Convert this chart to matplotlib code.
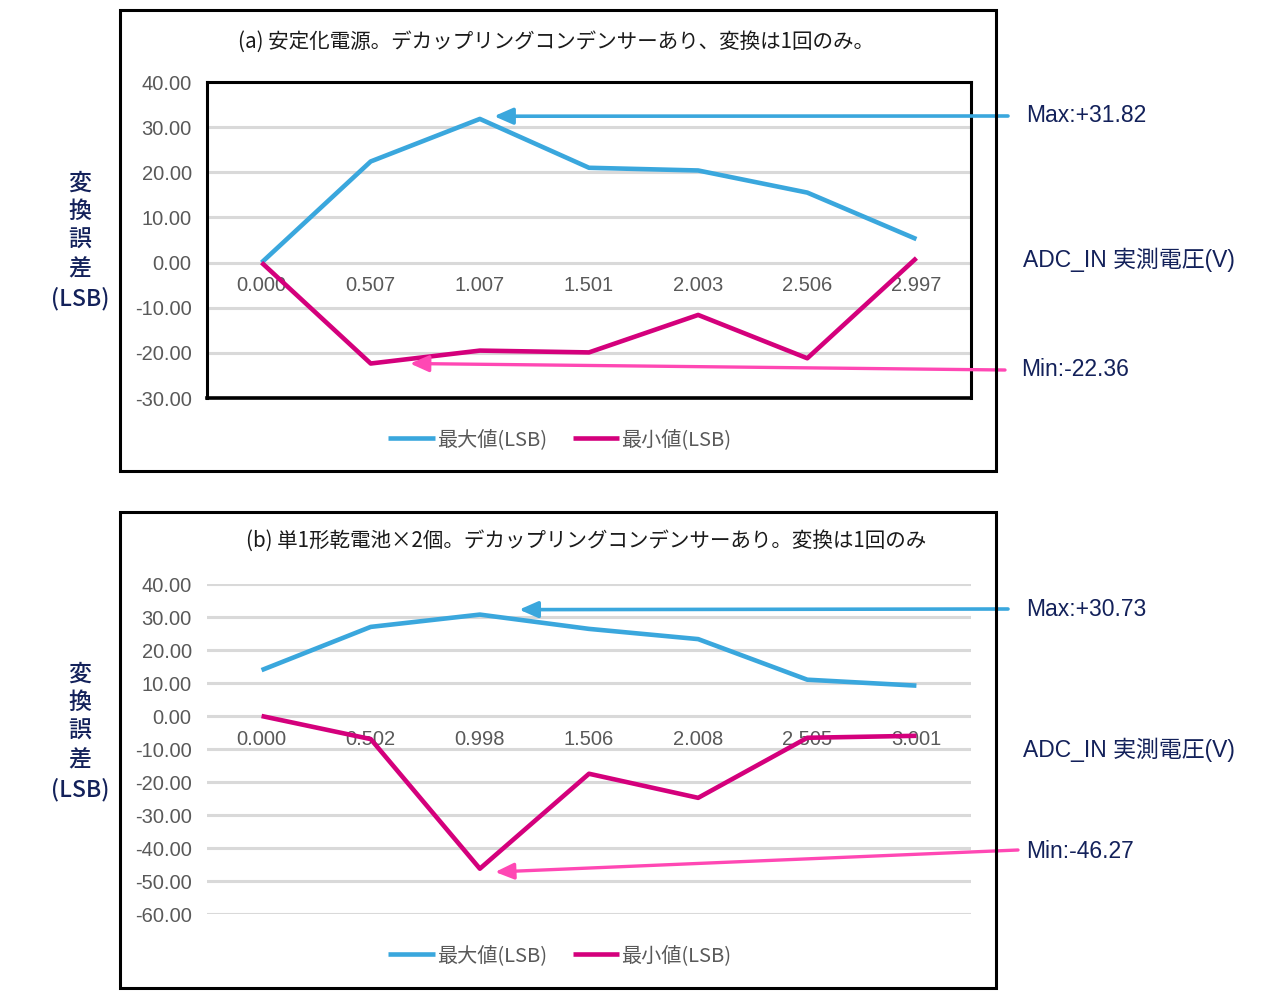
import numpy as np
import matplotlib
matplotlib.use("Agg")
import matplotlib.pyplot as plt
from matplotlib.patches import Rectangle

plt.rcParams['font.family'] = ['Noto Sans CJK JP', 'DejaVu Sans']

# -------------------------
# Data
# -------------------------
cats_a = ["0.000", "0.507", "1.007", "1.501", "2.003", "2.506", "2.997"]
max_a = [0.0, 22.4, 31.82, 21.0, 20.4, 15.5, 5.2]
min_a = [0.0, -22.36, -19.5, -19.9, -11.6, -21.2, 1.0]

cats_b = ["0.000", "0.502", "0.998", "1.506", "2.008", "2.505", "3.001"]
max_b = [13.9, 27.0, 30.73, 26.4, 23.3, 11.0, 9.2]
min_b = [0.0, -7.0, -46.27, -17.5, -24.8, -6.6, -6.0]

title_a = "(a) 安定化電源。デカップリングコンデンサーあり、変換は1回のみ。"
title_b = "(b) 単1形乾電池×2個。デカップリングコンデンサーあり。変換は1回のみ"
ylabel = "変\n換\n誤\n差\n(LSB)"
xlabel = "ADC_IN 実測電圧(V)"
legend_labels = ["最大値(LSB)", "最小値(LSB)"]

# -------------------------
# Styles
# -------------------------
BLUE = "#3AA7DD"
MAGENTA = "#D4007C"
PINK = "#FF48B4"
NAVY = "#13215A"
GRID = "#D9D9D9"
TICK = "#595959"

W, H = 1280, 997
fig = plt.figure(figsize=(W / 100, H / 100), dpi=100)


def fx(px):
    return px / W


def fy(py):
    return 1 - py / H


def make_panel(box, axbox, cats, vmax, vmin, ylim, yticks, title, title_xy,
               legend_y, ylab_y, xlab_y, max_txt_y, min_txt_xy,
               max_tail, min_tail, max_off, min_off, framed):
    # outer frame
    x0, y0, x1, y1 = box
    fig.add_artist(Rectangle((fx(x0), fy(y1)), fx(x1) - fx(x0), fy(y0) - fy(y1),
                             transform=fig.transFigure, fill=False,
                             edgecolor="black", linewidth=2.2))

    l, t, r, b = axbox
    ax = fig.add_axes([fx(l), fy(b), fx(r) - fx(l), fy(t) - fy(b)])
    ax.spines["bottom"].set_position(("data", 0))

    x = np.arange(len(cats))
    ax.plot(x, vmax, color=BLUE, lw=3.3, solid_capstyle="butt", label=legend_labels[0], zorder=3)
    ax.plot(x, vmin, color=MAGENTA, lw=3.3, solid_capstyle="butt", label=legend_labels[1], zorder=3)

    ax.set_xlim(-0.5, len(cats) - 0.5)
    ax.set_ylim(*ylim)
    ax.set_yticks(yticks)
    ax.set_yticklabels([f"{v:.2f}" for v in yticks], family=["Liberation Sans"],
                       fontsize=14.5, color=TICK)
    ax.set_xticks(x)
    ax.set_xticklabels(cats, family=["Liberation Sans"], fontsize=14.5, color=TICK)
    ax.tick_params(axis="both", length=0)
    ax.tick_params(axis="y", pad=11)
    ax.tick_params(axis="x", pad=10)
    ax.set_axisbelow(True)
    ax.grid(axis="y", color=GRID, lw=2.2)

    for s in ax.spines.values():
        s.set_visible(framed)
        s.set_linewidth(2.2)
        s.set_color("black")
    if framed:
        ax.spines["bottom"].set_visible(False)
        # bottom frame line at the lower limit
        ax.axhline(ylim[0], color="black", lw=2.6, zorder=4, clip_on=False)

    fig.text(fx(title_xy[0]), fy(title_xy[1]), title, ha="center", va="center",
             fontsize=14.8, color="#1a1a1a")
    fig.text(fx(80), fy(ylab_y), ylabel, ha="center", va="center", fontsize=16.5,
             color=NAVY, linespacing=1.32, fontweight="medium",
             family=["Noto Sans CJK JP", "Liberation Sans"])
    fig.text(fx(1023), fy(xlab_y), xlabel, ha="left", va="center", fontsize=16.5,
             color=NAVY, family=["Liberation Sans", "Noto Sans CJK JP"])

    # Max / Min callouts
    imax = int(np.argmax(vmax))
    imin = int(np.argmin(vmin))
    fig.text(fx(1026), fy(max_txt_y), f"Max:+{vmax[imax]:.2f}", ha="left", va="center",
             fontsize=16.5, color=NAVY, family=["Liberation Sans"])
    fig.text(fx(min_txt_xy[0]), fy(min_txt_xy[1]), f"Min:{vmin[imin]:.2f}", ha="left",
             va="center", fontsize=16.5, color=NAVY, family=["Liberation Sans"])

    ax.annotate("", xy=(imax + max_off[0], vmax[imax] + max_off[1]), xycoords="data",
                xytext=(fx(max_tail[0]), fy(max_tail[1])), textcoords="figure fraction",
                arrowprops=dict(arrowstyle="-|>,head_length=0.8,head_width=0.35",
                                color=BLUE, lw=2.6, shrinkA=0, shrinkB=0,
                                mutation_scale=14), annotation_clip=False, zorder=5)
    ax.annotate("", xy=(imin + min_off[0], vmin[imin] + min_off[1]), xycoords="data",
                xytext=(fx(min_tail[0]), fy(min_tail[1])), textcoords="figure fraction",
                arrowprops=dict(arrowstyle="-|>,head_length=0.8,head_width=0.35",
                                color=PINK, lw=2.4, shrinkA=0, shrinkB=0,
                                mutation_scale=14), annotation_clip=False, zorder=5)

    leg = ax.legend(loc="center", bbox_to_anchor=(fx(560), fy(legend_y)),
                    bbox_transform=fig.transFigure, ncol=2, frameon=False,
                    handlelength=2.3, handletextpad=0.1, columnspacing=1.3,
                    prop={"family": ["Noto Sans CJK JP", "Liberation Sans"], "size": 14.5})
    for txt in leg.get_texts():
        txt.set_color(TICK)
    return ax


make_panel(box=(120, 10, 996, 471), axbox=(207, 82, 971, 398),
           cats=cats_a, vmax=max_a, vmin=min_a, ylim=(-30, 40),
           yticks=np.arange(-30, 41, 10), title=title_a, title_xy=(556, 42),
           legend_y=440, ylab_y=241, xlab_y=260, max_txt_y=116,
           min_txt_xy=(1021, 369), max_tail=(1008, 116), min_tail=(1005, 370),
           max_off=(0.13, 0.6), min_off=(0.36, 0.0), framed=True)

make_panel(box=(120, 512, 996, 988), axbox=(207, 584, 971, 914),
           cats=cats_b, vmax=max_b, vmin=min_b, ylim=(-60, 40),
           yticks=np.arange(-60, 41, 10), title=title_b, title_xy=(586, 541),
           legend_y=956, ylab_y=732, xlab_y=750, max_txt_y=609,
           min_txt_xy=(1026, 851), max_tail=(1008, 609), min_tail=(1018, 850),
           max_off=(0.36, 1.5), min_off=(0.14, -1.0), framed=False)

fig.savefig("out.png", dpi=100)
